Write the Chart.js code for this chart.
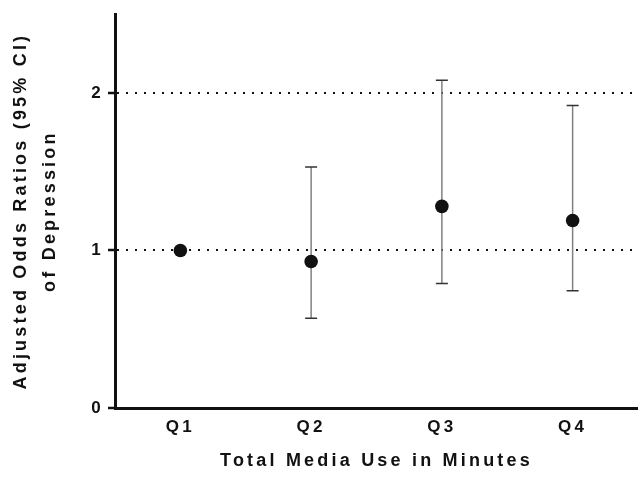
<!DOCTYPE html>
<html lang="en">
<head>
<meta charset="UTF-8">
<title>Adjusted Odds Ratios of Depression</title>
<script src="https://cdn.jsdelivr.net/npm/chart.js"></script>
<style>
    html, body { margin: 0; padding: 0; background: #fff; }
    #wrap { width: 638px; height: 477px; }
</style>
</head>
<body>
<div id="wrap"><canvas id="orChart"></canvas></div>
<script>
// data
const quartiles = ['Q1', 'Q2', 'Q3', 'Q4'];
const oddsRatios = [1.00, 0.93, 1.28, 1.19];
const ciLower = [null, 0.57, 0.79, 0.745];
const ciUpper = [null, 1.53, 2.08, 1.92];
const yTitle = ['Adjusted Odds Ratios (95% CI)', 'of Depression'];
const xTitle = 'Total Media Use in Minutes';

const ink = '#111';
const fontFamily = 'Arial, "Liberation Sans", sans-serif';

// spaced-out lettering like the original figure
const spacing = {
    id: 'spacing',
    beforeUpdate(chart) { chart.ctx.letterSpacing = '3.2px'; },
    beforeLayout(chart) { chart.ctx.letterSpacing = '3.2px'; },
    beforeDraw(chart) { chart.ctx.letterSpacing = '3.2px'; }
};

// 95% CI whiskers, drawn under the points
const errorBars = {
    id: 'errorBars',
    beforeDatasetsDraw(chart) {
        const { ctx, scales: { x, y } } = chart;
        ctx.save();
        quartiles.forEach((q, i) => {
            if (ciLower[i] == null) return;
            const px = x.getPixelForValue(i);
            const top = y.getPixelForValue(ciUpper[i]);
            const bot = y.getPixelForValue(ciLower[i]);
            ctx.strokeStyle = '#808080';
            ctx.lineWidth = 1.5;
            ctx.beginPath();
            ctx.moveTo(px, top);
            ctx.lineTo(px, bot);
            ctx.stroke();
            ctx.strokeStyle = '#333';
            ctx.beginPath();
            ctx.moveTo(px - 6, top); ctx.lineTo(px + 6, top);
            ctx.moveTo(px - 6, bot); ctx.lineTo(px + 6, bot);
            ctx.stroke();
        });
        ctx.restore();
    }
};

new Chart(document.getElementById('orChart'), {
    type: 'line',
    data: {
        labels: quartiles,
        datasets: [{
            data: oddsRatios,
            showLine: false,
            pointRadius: 6.8,
            pointHoverRadius: 6.8,
            pointBackgroundColor: ink,
            pointBorderColor: ink,
            pointBorderWidth: 0
        }]
    },
    options: {
        responsive: true,
        maintainAspectRatio: false,
        animation: false,
        events: [],
        layout: { autoPadding: false, padding: { top: 12, right: 0, bottom: 0, left: 0 } },
        plugins: {
            legend: { display: false },
            tooltip: { enabled: false }
        },
        scales: {
            x: {
                offset: true,
                afterFit(scale) { scale.height = 69; },
                grid: { drawOnChartArea: false, drawTicks: false },
                border: { color: ink, width: 3 },
                ticks: {
                    color: ink,
                    padding: 9,
                    font: { family: fontFamily, size: 17, weight: 'bold' }
                },
                title: {
                    display: true,
                    text: xTitle,
                    color: ink,
                    padding: { top: 0, bottom: 5 },
                    font: { family: fontFamily, size: 18, weight: 'bold' }
                }
            },
            y: {
                min: 0,
                max: 2.5,
                afterFit(scale) { scale.width = 115; },
                ticks: {
                    stepSize: 1,
                    includeBounds: false,
                    color: ink,
                    padding: 4,
                    font: { family: fontFamily, size: 17, weight: 'bold' }
                },
                grid: {
                    color: c => (c.tick && c.tick.value === 0) ? 'rgba(0,0,0,0)' : ink,
                    lineWidth: 2,
                    tickColor: ink,
                    tickLength: 7,
                    tickWidth: 2.5
                },
                border: { color: ink, width: 3, dash: [2, 7] },
                title: {
                    display: true,
                    text: yTitle,
                    color: ink,
                    padding: { top: 7, bottom: 0 },
                    font: { family: fontFamily, size: 18, weight: 'bold', lineHeight: 1.6 }
                }
            }
        }
    },
    plugins: [spacing, errorBars]
});
</script>
</body>
</html>
